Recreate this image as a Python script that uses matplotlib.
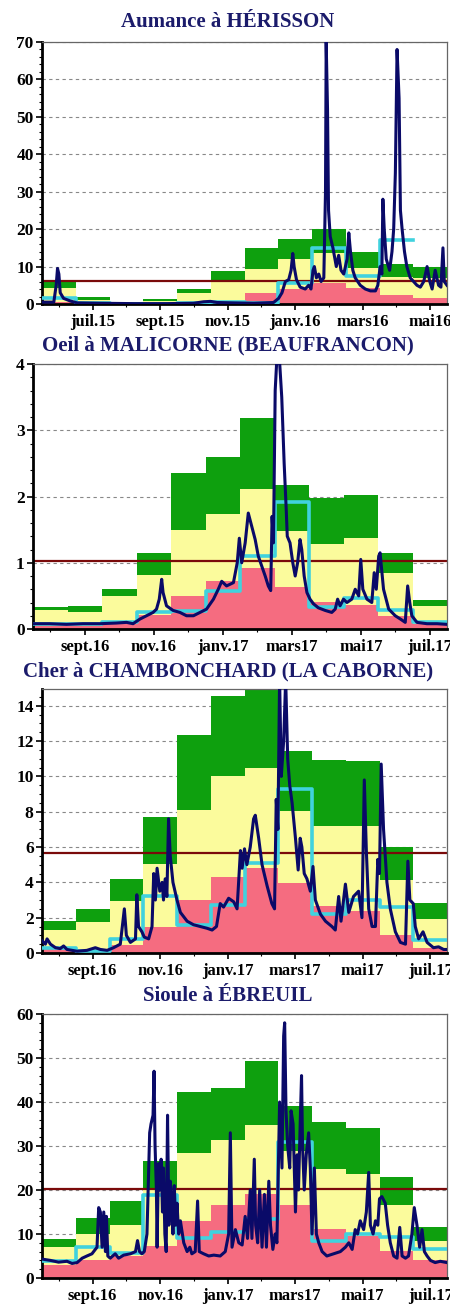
import numpy as np
import matplotlib
matplotlib.use('Agg')
import matplotlib.pyplot as plt

plt.rcParams['font.family'] = ['Liberation Serif', 'DejaVu Serif']
plt.rcParams['font.weight'] = 'bold'

PINK = '#f56c80'
YELLOW = '#fbfb9c'
GREEN = '#0ea00e'
CYAN = '#40d2de'
NAVY = '#0a0a68'
RED = '#7a0a0a'
TITLE = '#1b1b6b'

months = np.arange(12)

# ---- Aumance a HERISSON (juin 2015 -> mai 2016)
aum_pink = [0.5, 0.2, 0.1, 0.1, 0.3, 0.6, 3.0, 4.0, 5.5, 4.2, 2.4, 1.5]
aum_yel = [4.2, 1.2, 0.5, 0.9, 2.9, 6.4, 9.3, 12.0, 13.6, 9.6, 7.3, 6.9]
aum_grn = [6.0, 1.9, 0.5, 1.4, 3.9, 8.7, 14.9, 17.4, 20.0, 13.8, 10.6, 10.0]
aum_mean = [1.5, 0.3, 0.1, 0.1, 0.2, 0.5, 0.4, 5.5, 15.0, 7.5, 17.0, np.nan]
aum_module = 6.2
aum_t = [0.00, 0.35, 0.42, 0.46, 0.50, 0.54, 0.64, 0.84, 1.04, 1.73, 2.72, 3.70,
         4.49, 4.79, 4.99, 5.19, 5.68, 6.27, 6.86, 7.01, 7.11, 7.21, 7.31, 7.38,
         7.43, 7.47, 7.54, 7.65, 7.80, 7.90, 7.97, 8.03, 8.07, 8.13, 8.20, 8.27,
         8.35, 8.40, 8.42, 8.46, 8.49, 8.54, 8.62, 8.72, 8.79, 8.86, 8.94, 9.04,
         9.09, 9.14, 9.21, 9.28, 9.43, 9.58, 9.73, 9.88, 9.95, 10.02, 10.07, 10.10,
         10.14, 10.20, 10.30, 10.37, 10.42, 10.47, 10.52, 10.58, 10.62, 10.67,
         10.74, 10.81, 10.91, 11.01, 11.11, 11.21, 11.31, 11.41, 11.49, 11.56,
         11.65, 11.75, 11.82, 11.88, 11.92, 12.00]
aum_q = [0.5, 0.5, 5.0, 9.5, 8.0, 3.0, 1.5, 0.8, 0.3, 0.2, 0.1, 0.1,
         0.2, 0.6, 0.7, 0.4, 0.3, 0.2, 0.4, 1.5, 3.0, 6.0, 6.5, 9.0,
         13.5, 10.0, 6.5, 4.5, 4.0, 5.0, 4.0, 9.0, 10.0, 7.0, 8.0, 6.0,
         7.0, 30.0, 70.0, 52.0, 25.0, 18.0, 15.0, 10.0, 13.0, 9.0, 8.0, 12.0,
         19.0, 14.0, 9.0, 7.0, 5.0, 4.0, 3.5, 3.5, 5.0, 10.0, 8.0, 28.0,
         20.0, 12.0, 9.0, 14.0, 20.0, 35.0, 68.0, 55.0, 25.0, 20.0,
         14.0, 10.0, 7.0, 6.0, 5.0, 4.5, 6.0, 10.0, 6.0, 4.0,
         9.0, 5.0, 4.5, 15.0, 6.0, 5.0]
aum_labels = ['juil.15', 'sept.15', 'nov.15', 'janv.16', 'mars16', 'mai16']

# ---- Oeil a MALICORNE (aout 2016 -> juil. 2017)
oeil_pink = [0.05, 0.05, 0.08, 0.21, 0.5, 0.73, 0.92, 0.64, 0.41, 0.36, 0.2, 0.08]
oeil_yel = [0.28, 0.26, 0.5, 0.82, 1.5, 1.74, 2.11, 1.48, 1.28, 1.37, 0.84, 0.34]
oeil_grn = [0.33, 0.35, 0.6, 1.15, 2.36, 2.59, 3.19, 2.17, 1.97, 2.02, 1.15, 0.44]
oeil_mean = [0.07, 0.08, 0.1, 0.25, 0.27, 0.58, 1.1, 1.92, 0.33, 0.47, 0.28, 0.1]
oeil_module = 1.03
oeil_t = [0.00, 0.48, 0.97, 1.45, 1.94, 2.42, 2.71, 2.90, 3.10, 3.29, 3.48, 3.58,
          3.66, 3.73, 3.77, 3.87, 4.06, 4.26, 4.45, 4.65, 4.84, 5.03, 5.23, 5.37,
          5.47, 5.61, 5.81, 5.92, 5.98, 6.05, 6.15, 6.24, 6.34, 6.44, 6.53, 6.63,
          6.73, 6.82, 6.89, 6.93, 6.97, 7.02, 7.06, 7.14, 7.21, 7.28, 7.34, 7.37,
          7.45, 7.53, 7.60, 7.67, 7.74, 7.79, 7.86, 7.94, 8.03, 8.13, 8.27, 8.47,
          8.66, 8.76, 8.83, 8.90, 9.00, 9.10, 9.24, 9.34, 9.44, 9.50, 9.56, 9.68,
          9.82, 9.89, 9.95, 10.02, 10.06, 10.16, 10.31, 10.50, 10.65, 10.79, 10.86,
          10.92, 10.98, 11.13, 11.42, 11.71, 12.00]
oeil_q = [0.08, 0.08, 0.07, 0.08, 0.08, 0.09, 0.1, 0.08, 0.15, 0.2, 0.25, 0.3,
          0.45, 0.75, 0.55, 0.35, 0.28, 0.25, 0.2, 0.2, 0.25, 0.3, 0.45, 0.6,
          0.72, 0.65, 0.7, 1.0, 1.37, 1.0, 1.3, 1.75, 1.55, 1.35, 1.1, 0.95,
          0.8, 0.65, 0.58, 1.7, 1.3, 3.6, 4.0, 4.1, 3.5, 2.5, 1.8, 1.4,
          1.3, 1.0, 0.8, 1.0, 1.35, 1.2, 0.8, 0.55, 0.45, 0.38, 0.32, 0.28,
          0.25, 0.3, 0.45, 0.35, 0.45, 0.4, 0.45, 0.6, 0.5, 1.05, 0.6, 0.45,
          0.4, 0.85, 0.6, 1.1, 1.15, 0.6, 0.3, 0.2, 0.15, 0.1, 0.65,
          0.4, 0.2, 0.1, 0.08, 0.08, 0.07]

# ---- Cher a CHAMBONCHARD (aout 2016 -> juil. 2017)
cher_pink = [0.25, 0.25, 0.47, 1.47, 3.02, 4.3, 4.81, 3.96, 2.68, 2.36, 1.04, 0.3]
cher_yel = [1.32, 1.75, 2.92, 5.06, 8.11, 10.0, 10.5, 8.02, 7.2, 7.17, 4.15, 1.92]
cher_grn = [1.79, 2.5, 4.19, 7.7, 12.36, 14.58, 15.3, 11.42, 10.94, 10.89, 6.0, 2.83]
cher_mean = [0.3, 0.12, 0.8, 3.2, 1.6, 2.7, 5.1, 9.3, 2.2, 3.0, 2.6, 0.75]
cher_module = 5.66
cher_t = [0.00, 0.10, 0.15, 0.25, 0.40, 0.54, 0.64, 0.74, 1.04, 1.33, 1.58, 1.73,
          1.93, 2.12, 2.32, 2.44, 2.50, 2.62, 2.77, 2.81, 2.86, 2.96, 3.03, 3.16,
          3.26, 3.31, 3.36, 3.41, 3.49, 3.56, 3.60, 3.65, 3.70, 3.75, 3.80, 3.88,
          4.00, 4.10, 4.30, 4.49, 4.69, 4.89, 5.04, 5.17, 5.28, 5.38, 5.53, 5.68,
          5.78, 5.88, 5.93, 6.00, 6.07, 6.17, 6.27, 6.32, 6.42, 6.52, 6.67, 6.81,
          6.89, 6.94, 6.99, 7.04, 7.09, 7.16, 7.22, 7.28, 7.34, 7.41, 7.51, 7.59,
          7.65, 7.70, 7.77, 7.85, 7.95, 8.03, 8.10, 8.25, 8.40, 8.59, 8.69, 8.79,
          8.86, 8.99, 9.09, 9.23, 9.38, 9.48, 9.55, 9.61, 9.68, 9.78, 9.88, 9.95,
          10.00, 10.05, 10.12, 10.22, 10.32, 10.47, 10.62, 10.77, 10.84, 10.90,
          11.00, 11.06, 11.16, 11.29, 11.41, 11.60, 11.75, 11.90, 12.00]
cher_q = [0.7, 0.5, 0.8, 0.5, 0.3, 0.25, 0.4, 0.2, 0.1, 0.15, 0.3, 0.2,
          0.15, 0.3, 0.5, 2.5, 1.0, 0.6, 0.8, 3.3, 1.5, 1.2, 0.9, 0.8,
          1.5, 4.5, 3.0, 4.8, 3.5, 4.0, 3.0, 4.2, 3.2, 7.6, 5.5, 4.0,
          3.0, 2.3, 1.8, 1.6, 1.5, 1.4, 1.3, 1.5, 2.8, 2.6, 3.1, 2.9,
          2.5, 5.8, 4.8, 5.9, 5.0, 6.0, 7.6, 7.8, 6.5, 5.0, 3.8, 2.8,
          2.5, 8.7, 7.0, 15.5, 10.0, 12.0, 15.5, 11.0, 9.5, 8.5, 6.5, 4.7,
          6.5, 6.0, 4.5, 4.2, 3.5, 4.9, 3.0, 2.2, 1.8, 1.5, 1.3, 3.2,
          1.8, 3.9, 2.3, 3.2, 3.5, 2.0, 9.8, 5.8, 2.5, 1.5, 1.5, 5.3,
          4.5, 10.7, 7.0, 4.0, 2.5, 1.2, 0.6, 0.5, 5.2, 3.0,
          2.8, 1.5, 0.8, 1.2, 0.6, 0.3, 0.35, 0.2, 0.2]

# ---- Sioule a EBREUIL (aout 2016 -> juil. 2017)
sioule_pink = [3.0, 4.2, 4.9, 7.2, 12.9, 16.7, 19.1, 16.7, 11.2, 9.5, 6.2, 4.2]
sioule_yel = [7.0, 10.0, 12.0, 20.5, 28.4, 31.3, 34.8, 28.8, 24.8, 23.6, 16.5, 8.5]
sioule_grn = [8.9, 13.6, 17.4, 26.7, 42.2, 43.2, 49.4, 39.2, 35.4, 34.2, 22.9, 11.6]
sioule_mean = [3.9, 7.0, 5.7, 18.9, 9.1, 10.5, 13.3, 31.0, 8.5, 10.0, 9.3, 6.5]
sioule_module = 20.3
sioule_t = [0.00, 0.25, 0.49, 0.74, 0.89, 1.04, 1.19, 1.33, 1.48, 1.63, 1.68, 1.73,
            1.78, 1.83, 1.88, 1.91, 1.95, 2.02, 2.17, 2.27, 2.42, 2.62, 2.77, 2.83,
            2.89, 2.96, 3.03, 3.11, 3.19, 3.23, 3.29, 3.32, 3.35, 3.39, 3.41, 3.45,
            3.49, 3.53, 3.57, 3.60, 3.64, 3.68, 3.72, 3.76, 3.80, 3.84, 3.88, 3.92,
            3.96, 4.00, 4.05, 4.10, 4.20, 4.30, 4.38, 4.44, 4.54, 4.61, 4.66, 4.79,
            4.94, 5.09, 5.28, 5.43, 5.53, 5.58, 5.63, 5.73, 5.83, 5.93, 6.02, 6.09,
            6.17, 6.22, 6.29, 6.33, 6.39, 6.45, 6.52, 6.59, 6.65, 6.72, 6.77, 6.84,
            6.91, 6.96, 7.04, 7.11, 7.16, 7.19, 7.23, 7.28, 7.34, 7.38, 7.44, 7.51,
            7.56, 7.60, 7.65, 7.69, 7.72, 7.77, 7.83, 7.90, 7.95, 8.00, 8.07, 8.13,
            8.20, 8.30, 8.44, 8.64, 8.84, 8.99, 9.09, 9.19, 9.28, 9.35, 9.43, 9.53,
            9.61, 9.68, 9.73, 9.81, 9.88, 9.95, 10.00, 10.07, 10.17, 10.24, 10.32,
            10.42, 10.52, 10.60, 10.67, 10.77, 10.86, 10.96, 11.03, 11.11, 11.19,
            11.26, 11.33, 11.41, 11.51, 11.65, 11.80, 12.00]
sioule_q = [4.3, 4.0, 3.6, 3.8, 3.3, 3.5, 4.5, 5.0, 5.5, 7.0, 16.0, 15.0,
            7.0, 15.0, 6.0, 14.0, 5.0, 4.5, 5.5, 4.5, 5.2, 5.5, 6.0, 8.5,
            6.0, 5.5, 6.0, 10.0, 33.0, 35.0, 37.0, 47.0, 30.0, 20.0, 7.0, 26.0,
            20.0, 27.0, 15.0, 25.0, 10.0, 6.0, 37.0, 12.0, 22.0, 18.0, 10.0, 21.0,
            12.0, 17.0, 10.0, 13.0, 8.0, 6.0, 7.0, 5.5, 6.0, 17.5, 6.0, 5.5,
            5.0, 5.2, 5.0, 6.0, 10.0, 33.0, 7.0, 11.0, 8.0, 7.5, 14.0, 9.0,
            20.0, 9.0, 27.0, 12.0, 8.0, 20.0, 7.0, 19.0, 7.0, 22.0, 12.0, 6.5,
            10.0, 8.0, 40.0, 25.0, 55.0, 58.0, 38.0, 30.0, 25.0, 38.0, 35.0, 15.0,
            28.0, 20.0, 35.0, 46.0, 30.0, 20.0, 28.0, 33.0, 25.0, 10.0, 25.0, 10.0,
            8.0, 6.0, 5.0, 5.5, 6.0, 7.0, 8.0, 6.5, 11.0, 10.0, 13.0, 11.0,
            15.0, 24.0, 12.0, 10.0, 13.0, 12.0, 18.0, 18.5, 17.0, 12.0, 8.0,
            5.0, 4.5, 11.5, 5.0, 4.5, 5.0, 10.0, 16.0, 12.0, 7.0,
            11.0, 6.0, 5.0, 4.0, 3.5, 3.8, 3.5]

labels_1617 = ['sept.16', 'nov.16', 'janv.17', 'mars17', 'mai17', 'juil.17']

W, H = 450, 1304
fig = plt.figure(figsize=(W / 100, H / 100), dpi=100)


def panel(box, title, title_y, pink, yel, grn, mean, module, t, q,
          ymax, ystep, nminor, xlabels):
    left, top, right, bottom = box
    ax = fig.add_axes([left / W, 1 - bottom / H, (right - left) / W, (bottom - top) / H])
    pink = np.array(pink)
    yel = np.array(yel)
    grn = np.array(grn)
    ax.bar(months, pink, width=1, align='edge', color=PINK, lw=0, zorder=1)
    ax.bar(months, yel - pink, bottom=pink, width=1, align='edge', color=YELLOW, lw=0, zorder=1)
    ax.bar(months, grn - yel, bottom=yel, width=1, align='edge', color=GREEN, lw=0, zorder=1)
    ax.axhline(module, color=RED, lw=1.6, zorder=2)
    ax.step(np.arange(13), np.append(mean, mean[-1]), where='post', color=CYAN, lw=2.6, zorder=3)
    ax.plot(t, q, color=NAVY, lw=2.2, zorder=4)

    ax.set_xlim(0, 12)
    ax.set_ylim(0, ymax)
    ax.set_xticks(np.arange(1.5, 12, 2))
    ax.set_xticklabels(xlabels)
    ax.set_xticks(np.arange(0.5, 12, 2), minor=True)
    yt = np.arange(0, ymax + 0.01, ystep)
    ax.set_yticks(yt)
    ax.set_yticklabels(['%g' % v for v in yt])
    ax.set_yticks(np.arange(0, ymax + 0.01, ystep / nminor), minor=True)
    ax.tick_params(axis='both', which='major', labelsize=12.5, length=4, width=1.2, pad=2)
    ax.tick_params(axis='both', which='minor', length=2.5, width=0.8)
    ax.tick_params(axis='x', which='major', labelsize=12, pad=3)
    ax.grid(axis='y', which='major', color='#888888', lw=0.8, ls=(0, (3, 3)), zorder=0)
    ax.set_axisbelow(True)
    ax.spines['left'].set_linewidth(2)
    ax.spines['bottom'].set_linewidth(2)
    for s in ('top', 'right'):
        ax.spines[s].set_color('#666666')
        ax.spines[s].set_linewidth(0.9)
    fig.text(228 / W, 1 - title_y / H, title, ha='center', va='center',
             fontsize=15, fontweight='bold', color=TITLE)
    return ax


panel((42, 42, 447, 304), 'Aumance à HÉRISSON', 22,
      aum_pink, aum_yel, aum_grn, aum_mean, aum_module, aum_t, aum_q,
      70, 10, 5, aum_labels)
panel((33, 364, 447, 629), 'Oeil à MALICORNE (BEAUFRANCON)', 345,
      oeil_pink, oeil_yel, oeil_grn, oeil_mean, oeil_module, oeil_t, oeil_q,
      4, 1, 5, labels_1617)
panel((42, 689, 447, 953), 'Cher à CHAMBONCHARD (LA CABORNE)', 671,
      cher_pink, cher_yel, cher_grn, cher_mean, cher_module, cher_t, cher_q,
      14.95, 2, 4, labels_1617)
panel((42, 1014, 447, 1278), 'Sioule à ÉBREUIL', 996,
      sioule_pink, sioule_yel, sioule_grn, sioule_mean, sioule_module, sioule_t, sioule_q,
      60, 10, 5, labels_1617)

fig.savefig('out.png', dpi=100)
